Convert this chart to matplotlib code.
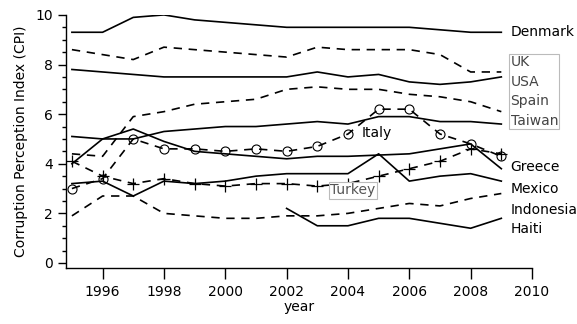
import matplotlib.pyplot as plt
import numpy as np

years = list(range(1995, 2010))

denmark = [9.3, 9.3, 9.9, 10.0, 9.8, 9.7, 9.6, 9.5, 9.5, 9.5, 9.5, 9.5, 9.4, 9.3, 9.3]
uk = [8.6, 8.4, 8.2, 8.7, 8.6, 8.5, 8.4, 8.3, 8.7, 8.6, 8.6, 8.6, 8.4, 7.7, 7.7]
usa = [7.8, 7.7, 7.6, 7.5, 7.5, 7.5, 7.5, 7.5, 7.7, 7.5, 7.6, 7.3, 7.2, 7.3, 7.5]
spain = [4.4, 4.3, 5.9, 6.1, 6.4, 6.5, 6.6, 7.0, 7.1, 7.0, 7.0, 6.8, 6.7, 6.5, 6.1]
taiwan = [5.1, 5.0, 5.0, 5.3, 5.4, 5.5, 5.5, 5.6, 5.7, 5.6, 5.9, 5.9, 5.7, 5.7, 5.6]
italy = [3.0, 3.4, 5.0, 4.6, 4.6, 4.5, 4.6, 4.5, 4.7, 5.2, 6.2, 6.2, 5.2, 4.8, 4.3]
greece = [4.0, 5.0, 5.4, 4.9, 4.5, 4.4, 4.3, 4.2, 4.3, 4.3, 4.35, 4.4, 4.6, 4.8, 3.8]
mexico = [3.2, 3.3, 2.7, 3.3, 3.2, 3.3, 3.5, 3.6, 3.6, 3.6, 4.4, 3.3, 3.5, 3.6, 3.3]
turkey = [4.1, 3.5, 3.2, 3.4, 3.2, 3.1, 3.2, 3.2, 3.1, 3.2, 3.5, 3.8, 4.1, 4.6, 4.4]
indonesia = [1.9, 2.7, 2.7, 2.0, 1.9, 1.8, 1.8, 1.9, 1.9, 2.0, 2.2, 2.4, 2.3, 2.6, 2.8]
haiti_years = list(range(2002, 2010))
haiti = [2.2, 1.5, 1.5, 1.8, 1.8, 1.6, 1.4, 1.8]

plt.rcParams['font.family'] = ['DejaVu Sans']
fig = plt.figure(figsize=(5.77, 3.24), dpi=100)
ax = fig.add_axes([0.114, 0.173, 0.808, 0.781])

lw = 1.2
dash = (0, (5, 4))
ax.plot(years, denmark, color='black', lw=lw)
ax.plot(years, uk, color='black', lw=lw, linestyle=dash)
ax.plot(years, usa, color='black', lw=lw)
ax.plot(years, spain, color='black', lw=lw, linestyle=dash)
ax.plot(years, taiwan, color='black', lw=lw)
ax.plot(years, italy, color='black', lw=lw, linestyle=dash,
        marker='o', markersize=6.5, markerfacecolor='none', markeredgewidth=0.8)
ax.plot(years, greece, color='black', lw=lw)
ax.plot(years, mexico, color='black', lw=lw)
ax.plot(years, turkey, color='black', lw=lw, linestyle=dash,
        marker='+', markersize=8, markeredgewidth=0.9)
ax.plot(years, indonesia, color='black', lw=lw, linestyle=dash)
ax.plot(haiti_years, haiti, color='black', lw=lw)

ax.set_xlim(1994.8, 2010)
ax.set_ylim(-0.2, 10)
ax.set_xticks(np.arange(1996, 2011, 2))
ax.set_yticks(np.arange(0, 11, 2))
ax.set_yticks(np.arange(0, 10.1, 0.5), minor=True)
ax.tick_params(axis='x', direction='out', length=8, width=1, labelsize=10, pad=4)
ax.tick_params(axis='y', which='major', direction='out', length=6, width=1, labelsize=10)
ax.tick_params(axis='y', which='minor', direction='out', length=3, width=1)
for side in ['top', 'right']:
    ax.spines[side].set_visible(False)
for side in ['left', 'bottom']:
    ax.spines[side].set_linewidth(1)

ax.set_xlabel('year', fontsize=10, labelpad=1)
ax.set_ylabel('Corruption Perception Index (CPI)', fontsize=10, labelpad=5)

# country labels at the right end of the lines
ax.text(2009.3, 9.3, 'Denmark', fontsize=10, va='center', ha='left')
ax.text(2009.3, 6.92, 'UK\nUSA\nSpain\nTaiwan', fontsize=10, va='center', ha='left',
        color='#444444', linespacing=1.5,
        bbox=dict(boxstyle='square,pad=0.1', facecolor='white', edgecolor='#bbbbbb', lw=0.8))
ax.text(2009.3, 3.85, 'Greece', fontsize=10, va='center', ha='left')
ax.text(2009.3, 3.0, 'Mexico', fontsize=10, va='center', ha='left')
ax.text(2009.3, 2.15, 'Indonesia', fontsize=10, va='center', ha='left')
ax.text(2009.3, 1.35, 'Haiti', fontsize=10, va='center', ha='left')
ax.text(2004.44, 5.22, 'Italy', fontsize=10, va='center', ha='left')
ax.text(2003.42, 2.93, 'Turkey', fontsize=10, va='center', ha='left', color='#555555',
        bbox=dict(boxstyle='square,pad=0.1', facecolor='white', edgecolor='#bbbbbb', lw=0.8))

fig.savefig('out.png', dpi=100)
